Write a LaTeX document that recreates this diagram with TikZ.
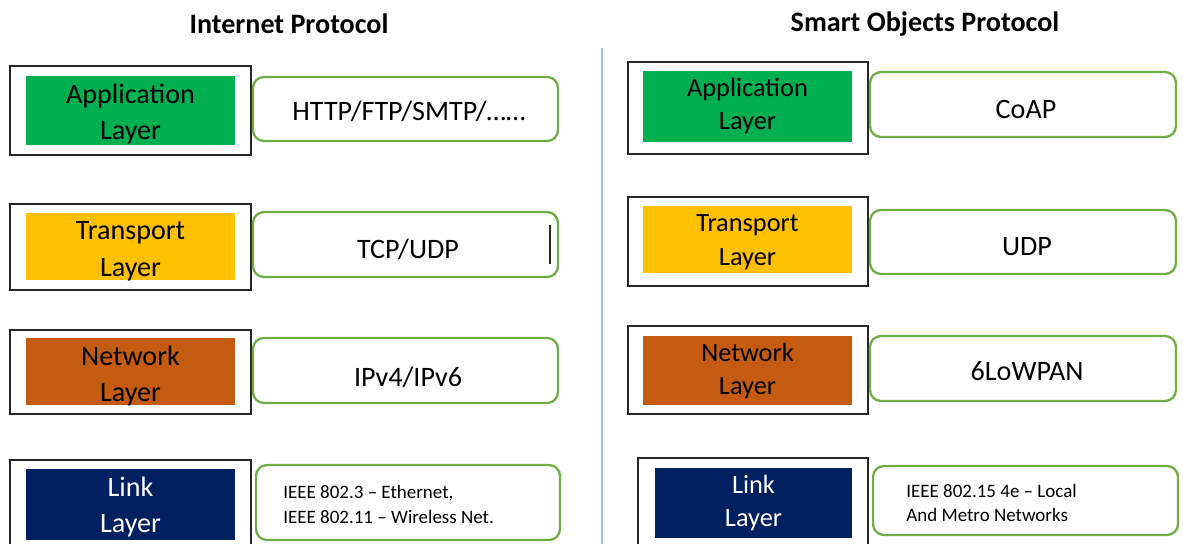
\documentclass[tikz,border=0pt]{standalone}
\usepackage{fontspec}
\setmainfont{Carlito}
\definecolor{appgreen}{HTML}{00B050}
\definecolor{tpyellow}{HTML}{FFC000}
\definecolor{nwbrown}{HTML}{C55A11}
\definecolor{lknavy}{HTML}{002060}
\definecolor{boxgreen}{HTML}{70AD47}
\definecolor{splitblue}{HTML}{9DC3E6}
\tikzset{layerframe/.style={draw=black!85, line width=0.7pt},
 protobox/.style={draw=boxgreen, line width=1.3pt, rounded corners=0.22cm},
 layertext/.style={align=center, font=\fontsize{16}{21}\selectfont},
 rlayertext/.style={align=center, font=\fontsize{15}{19.3}\selectfont},
 prototext/.style={font=\fontsize{16}{19}\selectfont},
 smalltext/.style={align=left, anchor=west, inner xsep=0pt, font=\fontsize{10.8}{14}\selectfont},
 headtext/.style={font=\fontsize{16}{19}\selectfont\bfseries},
 }

\begin{document}
\begin{tikzpicture}[x=0.02cm, y=-0.02cm]
        \useasboundingbox (0,0) rectangle (1183,544);
        % headings and split
        \node[headtext] (iphead) at (289,24) {Internet Protocol};
        \node[headtext] (sohead) at (925,24.5) {Smart Objects Protocol};
        \draw[splitblue, line width=0.7pt] (602,48) -- (602,544);
        % internet protocol side
        \draw[layerframe] (10,66) rectangle (251,155);
        \fill[appgreen] (26,76) rectangle (235,145);
        \node[layertext] (ipapp) at (130.5,114) {Application\\Layer};
        \draw[protobox] (253,77) rectangle (558,141);
        \node[prototext] (iphttp) at (409,111) {HTTP/FTP/SMTP/……};
        \draw[layerframe] (10,204) rectangle (251,290);
        \fill[tpyellow] (26,213) rectangle (235,280);
        \node[layertext] (iptrans) at (130.5,251) {Transport\\Layer};
        \draw[protobox] (253,212) rectangle (558,277);
        \node[prototext] (iptcp) at (408,249) {TCP/UDP};
        \draw[black!85, line width=0.6pt] (550,225) -- (550,264);
        \draw[layerframe] (10,330) rectangle (251,414);
        \fill[nwbrown] (26,338) rectangle (235,405);
        \node[layertext] (ipnet) at (130.5,376) {Network\\Layer};
        \draw[protobox] (253,338) rectangle (558,403);
        \node[prototext] (ipvers) at (408,377) {IPv4/IPv6};
        \draw[layerframe] (10,460) rectangle (251,550);
        \fill[lknavy] (26,469) rectangle (235,540);
        \node[layertext, white] (iplink) at (130.5,507) {Link\\Layer};
        \draw[protobox] (256,465) rectangle (560,540);
        \node[smalltext] (ipieee) at (283,504.5) {IEEE 802.3 – Ethernet,\\IEEE 802.11 – Wireless Net.};
        % smart objects side
        \draw[layerframe] (628,62) rectangle (868,154);
        \fill[appgreen] (643,71) rectangle (852,142);
        \node[rlayertext] (soapp) at (747.5,106) {Application\\Layer};
        \draw[protobox] (870,72) rectangle (1176,137);
        \node[prototext] (socoap) at (1026,109) {CoAP};
        \draw[layerframe] (628,197) rectangle (868,286);
        \fill[tpyellow] (643,206) rectangle (852,273);
        \node[rlayertext] (sotrans) at (747.5,242) {Transport\\Layer};
        \draw[protobox] (870,210) rectangle (1176,274);
        \node[prototext] (soudp) at (1027,247) {UDP};
        \draw[layerframe] (628,326) rectangle (868,414);
        \fill[nwbrown] (643,336) rectangle (852,405);
        \node[rlayertext] (sonet) at (747.5,371) {Network\\Layer};
        \draw[protobox] (870,336) rectangle (1176,401);
        \node[prototext] (solowpan) at (1027,371) {6LoWPAN};
        \draw[layerframe] (638,458) rectangle (868,550);
        \fill[lknavy] (655,468) rectangle (852,538);
        \node[rlayertext, white] (solink) at (753.5,503) {Link\\Layer};
        \draw[protobox] (873,466) rectangle (1178,535);
        \node[smalltext] (soieee) at (906,503) {IEEE 802.15 4e – Local\\And Metro Networks};
\end{tikzpicture}
\end{document}
